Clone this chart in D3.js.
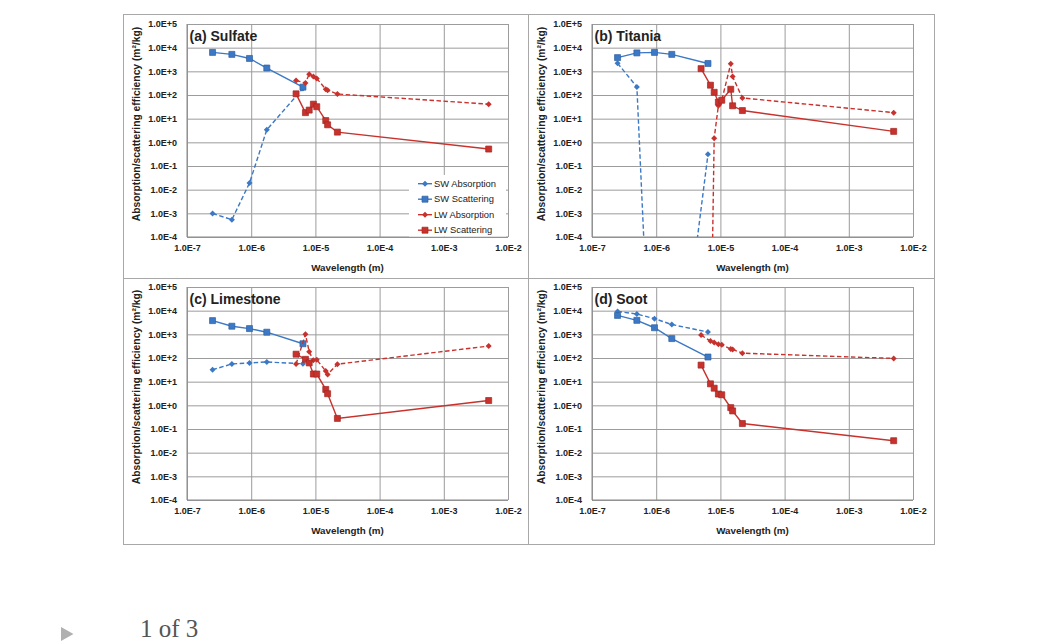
<!DOCTYPE html>
<html>
<head>
<meta charset="utf-8">
<script src="https://d3js.org/d3.v7.min.js"></script>
<style>
  body { margin: 0; background: #fff; }
  text { font-family: "Liberation Sans", Arial, sans-serif; }
</style>
</head>
<body>
<svg id="chart"></svg>
<script>
  // band wavelengths (m)
  var swWavelength = [2.5e-7, 5e-7, 9.4e-7, 1.75e-6, 6.4e-6];
  var lwWavelength = [5e-6, 7e-6, 8e-6, 9.3e-6, 1.05e-5, 1.45e-5, 1.55e-5, 2.2e-5, 5e-3];

  var panelTitles = ["(a) Sulfate", "(b) Titania", "(c) Limestone", "(d) Soot"];
  var seriesNames = ["SW Absorption", "SW Scattering", "LW Absorption", "LW Scattering"];

  // absorption / scattering efficiency (m2/kg)
  var sulfateSwAbs = [9.8e-4, 5.4e-4, 0.019, 3.4, 190];
  var sulfateSwSca = [6300, 5200, 3500, 1380, 215];
  var sulfateLwAbs = [410, 320, 760, 600, 500, 175, 160, 110, 41];
  var sulfateLwSca = [112, 18, 23, 41, 32, 8.3, 5.5, 2.7, 0.52];

  var titaniaSwAbs = [2200, 220, 1e-14, 2.5e-13, 0.31];
  var titaniaSwSca = [3800, 6000, 6300, 5200, 2150];
  var titaniaLwAbs = [1e-12, 1e-10, 1.5, 35, 60, 2100, 600, 75, 18];
  var titaniaLwSca = [1300, 260, 130, 50, 60, 175, 35, 22, 2.9];

  var limestoneSwAbs = [32, 56, 62, 68, 57];
  var limestoneSwSca = [3800, 2200, 1750, 1230, 400];
  var limestoneLwAbs = [56, 1000, 185, 80, 85, 28, 20, 55, 320];
  var limestoneLwSca = [145, 88, 62, 21, 21, 4.7, 3.1, 0.28, 1.6];

  var sootSwAbs = [9300, 7200, 4600, 2600, 1250];
  var sootSwSca = [6300, 3900, 1900, 660, 110];
  var sootLwAbs = [930, 520, 450, 380, 360, 240, 230, 160, 96];
  var sootLwSca = [50, 8.1, 5.3, 3.0, 2.8, 0.8, 0.58, 0.17, 0.032];

  var xTicks = [1e-7, 1e-6, 1e-5, 1e-4, 1e-3, 1e-2];
  var xTickLabels = ["1.0E-7", "1.0E-6", "1.0E-5", "1.0E-4", "1.0E-3", "1.0E-2"];
  var yTicks = [1e-4, 1e-3, 1e-2, 1e-1, 1, 1e1, 1e2, 1e3, 1e4, 1e5];
  var yTickLabels = ["1.0E-4", "1.0E-3", "1.0E-2", "1.0E-1", "1.0E+0", "1.0E+1", "1.0E+2", "1.0E+3", "1.0E+4", "1.0E+5"];

  var panels = [
    [sulfateSwAbs, sulfateSwSca, sulfateLwAbs, sulfateLwSca],
    [titaniaSwAbs, titaniaSwSca, titaniaLwAbs, titaniaLwSca],
    [limestoneSwAbs, limestoneSwSca, limestoneLwAbs, limestoneLwSca],
    [sootSwAbs, sootSwSca, sootLwAbs, sootLwSca]
  ];

  var blue = "#3b78c6", red = "#c8312c";
  // style per series: colour, dashed line?, marker
  var seriesStyle = [
    {color: blue, dash: "4.5,2.5", marker: "diamond", xs: swWavelength},
    {color: blue, dash: null, marker: "square", xs: swWavelength},
    {color: red, dash: "4.5,2.5", marker: "diamond", xs: lwWavelength},
    {color: red, dash: null, marker: "square", xs: lwWavelength}
  ];

  var plotW = 321, plotH = 213, gridColor = "#9c9c9c";

  var svg = d3.select("#chart")
    .attr("width", 1040)
    .attr("height", 643);

  var x = d3.scaleLog().domain([1e-7, 1e-2]).range([0, plotW]);
  var y = d3.scaleLog().domain([1e-4, 1e5]).range([plotH, 0]);

  function marker(sel, st) {
    if (st.marker == "square") {
      sel.attr("d", d3.symbol().type(d3.symbolSquare).size(36))
        .attr("fill", st.color)
        .attr("stroke", d3.color(st.color).darker(0.6))
        .attr("stroke-width", 0.7);
    } else {
      sel.attr("d", d3.symbol().type(d3.symbolSquare).size(18))
        .attr("fill", st.color);
    }
  }

  // outer frame and panel dividers
  svg.append("rect")
    .attr("x", 123.5).attr("y", 14.5)
    .attr("width", 811).attr("height", 530)
    .attr("fill", "none").attr("stroke", "#a8a8a8");
  svg.append("line").attr("x1", 528.5).attr("x2", 528.5).attr("y1", 14.5).attr("y2", 544.5)
    .attr("stroke", "#a8a8a8");
  svg.append("line").attr("x1", 123.5).attr("x2", 934.5).attr("y1", 278.5).attr("y2", 278.5)
    .attr("stroke", "#a8a8a8");

  panels.forEach(function(series, i) {
    var col = i % 2, row = Math.floor(i / 2);
    var left = 187 + col * 405;
    var top = row == 0 ? 24 : 287;

    var g = svg.append("g")
      .attr("transform", "translate(" + left + "," + top + ")");

    // gridlines
    g.append("g")
      .attr("transform", "translate(0," + plotH + ")")
      .call(d3.axisBottom(x).tickValues(xTicks).tickSize(-plotH).tickFormat(""))
      .call(function(a) { a.select(".domain").remove(); a.selectAll("line").attr("stroke", gridColor); });
    g.append("g")
      .call(d3.axisLeft(y).tickValues(yTicks).tickSize(-plotW).tickFormat(""))
      .call(function(a) { a.select(".domain").remove(); a.selectAll("line").attr("stroke", gridColor); });

    // axis lines
    g.append("line").attr("x1", 0).attr("x2", 0).attr("y1", 0).attr("y2", plotH).attr("stroke", "#888");
    g.append("line").attr("x1", 0).attr("x2", plotW).attr("y1", plotH).attr("y2", plotH).attr("stroke", "#888");

    // tick labels
    g.append("g")
      .attr("transform", "translate(0," + plotH + ")")
      .call(d3.axisBottom(x).tickValues(xTicks).tickSize(0).tickPadding(7.5)
        .tickFormat(function(d, k) { return xTickLabels[k]; }))
      .call(function(a) { a.select(".domain").remove(); })
      .selectAll("text")
        .attr("font-size", 9).attr("font-weight", "bold").attr("fill", "#222");
    g.append("g")
      .call(d3.axisLeft(y).tickValues(yTicks).tickSize(0).tickPadding(10)
        .tickFormat(function(d, k) { return yTickLabels[k]; }))
      .call(function(a) { a.select(".domain").remove(); })
      .selectAll("text")
        .attr("font-size", 9).attr("font-weight", "bold").attr("fill", "#222");

    // axis titles
    g.append("text")
      .text("Wavelength (m)")
      .attr("x", plotW / 2).attr("y", plotH + 33.5)
      .attr("text-anchor", "middle")
      .attr("font-size", 9.8).attr("font-weight", "bold").attr("fill", "#222");
    g.append("text")
      .text("Absorption/scattering efficiency (m²/kg)")
      .attr("transform", "translate(-51," + 100 + ") rotate(-90)")
      .attr("text-anchor", "middle")
      .attr("dominant-baseline", "central")
      .attr("font-size", 10.3).attr("font-weight", "bold").attr("fill", "#222");

    // panel title
    g.append("text")
      .text(panelTitles[i])
      .attr("x", 2.5).attr("y", 16.5)
      .attr("font-size", 14).attr("font-weight", "bold").attr("fill", "#222");

    // legend (panel a only)
    if (i == 0) {
      g.append("rect")
        .attr("x", 222).attr("y", 151)
        .attr("width", 97).attr("height", 61.5)
        .attr("fill", "#fff");
      seriesNames.forEach(function(name, k) {
        var st = seriesStyle[k];
        var ly = 159.7 + k * 15.5;
        g.append("line")
          .attr("x1", 231).attr("x2", 245).attr("y1", ly).attr("y2", ly)
          .attr("stroke", st.color).attr("stroke-width", 1.4);
        g.append("path")
          .attr("transform", "translate(238," + ly + ")" + (st.marker == "diamond" ? " rotate(45)" : ""))
          .call(marker, st);
        g.append("text")
          .text(name)
          .attr("x", 247).attr("y", ly + 3.2)
          .attr("font-size", 9.4).attr("fill", "#222");
      });
    }

    // clip data to the plot area
    g.append("clipPath").attr("id", "clip" + i)
      .append("rect").attr("width", plotW).attr("height", plotH);
    var data = g.append("g").attr("clip-path", "url(#clip" + i + ")");

    series.forEach(function(vals, k) {
      var st = seriesStyle[k];
      var pts = vals.map(function(v, j) { return [st.xs[j], v]; });
      data.append("path")
        .datum(pts)
        .attr("fill", "none")
        .attr("stroke", st.color)
        .attr("stroke-width", 1.4)
        .attr("stroke-dasharray", st.dash)
        .attr("d", d3.line()
          .x(function(d) { return x(d[0]); })
          .y(function(d) { return y(d[1]); }));
      data.selectAll(null)
        .data(pts.filter(function(d) { return d[1] >= 1e-4; }))
        .enter().append("path")
          .attr("transform", function(d) {
            return "translate(" + x(d[0]) + "," + y(d[1]) + ")" + (st.marker == "diamond" ? " rotate(45)" : "");
          })
          .call(marker, st);
    });
  });

  // page footer
  svg.append("polygon")
    .attr("points", "61,627 73.5,634 61,641")
    .attr("fill", "#b0b0b0");
  svg.append("text")
    .text("1 of 3")
    .attr("x", 140).attr("y", 637)
    .style("font-family", "'Liberation Serif', 'Times New Roman', serif")
    .style("font-size", "25px")
    .attr("fill", "#555");
</script>
</body>
</html>
